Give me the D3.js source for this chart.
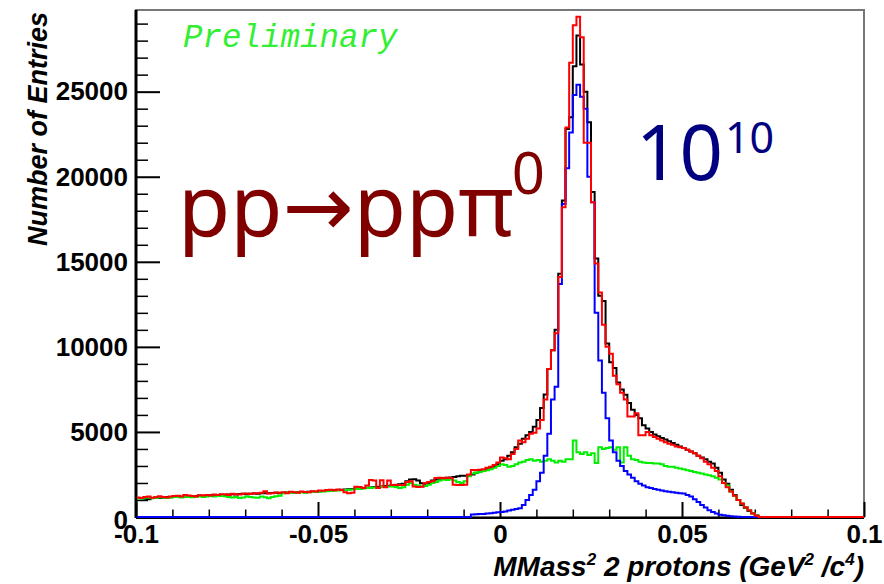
<!DOCTYPE html>
<html>
<head>
<meta charset="utf-8">
<script src="https://cdn.jsdelivr.net/npm/d3@7"></script>
<style>
  body { margin: 0; background: #fff; }
  svg { display: block; }
  .tick text { font-family: "Liberation Sans", Arial, sans-serif; font-weight: bold; font-size: 26px; fill: #000; }
</style>
</head>
<body>
<svg id="chart" width="884" height="584"></svg>
<script>
// histogram: 200 bins of 0.001 from -0.1 to 0.1
const binLow = -0.1, binWidth = 0.001

// black: all events
const totalHist = [
  1120,1100,1080,1050,1110,1140,1120,1150,1170,1160,
  1180,1200,1190,1210,1230,1220,1240,1260,1250,1270,
  1280,1270,1300,1310,1290,1320,1330,1320,1350,1360,
  1340,1370,1380,1370,1390,1400,1390,1410,1420,1400,
  1430,1440,1450,1440,1460,1470,1460,1480,1500,1490,
  1510,1530,1550,1560,1580,1590,1600,1610,1630,1650,
  1670,1680,1700,1720,1740,1760,1780,1800,1820,1840,
  1860,1880,1920,1960,2100,2200,2220,2150,1980,1960,
  2000,2150,2200,2250,2280,2300,2320,2350,2400,2420,
  2420,2450,2500,2600,2700,2750,2800,2900,3000,3100,
  3300,3400,3600,3800,4100,4300,4600,4800,5000,5300,
  5700,6400,7200,8700,9800,11000,14300,18600,22800,23500,
  26500,28300,26600,25000,23200,19100,15200,13000,12700,10200,
  9100,8760,7900,7500,7180,6700,6300,6000,5800,5400,
  5200,5000,4850,4750,4650,4550,4450,4350,4250,4150,
  4050,3950,3850,3750,3600,3500,3400,3250,3150,2900,
  2600,2200,1950,1600,1300,1000,700,550,350,220,
  90,0,0,0,0,0,0,0,0,0,
  0,0,0,0,0,0,0,0,0,0,
  0,0,0,0,0,0,0,0,0,0
]

// red: sum of simulated channels
const sumHist = [
  1150,1120,1180,1200,1130,1160,1220,1180,1150,1200,
  1230,1250,1200,1290,1260,1240,1200,1280,1260,1300,
  1260,1320,1290,1340,1330,1300,1360,1340,1320,1370,
  1380,1350,1400,1390,1420,1520,1380,1400,1440,1420,
  1450,1400,1480,1460,1430,1500,1470,1450,1520,1500,
  1560,1540,1580,1600,1570,1620,1590,1450,1400,1420,
  1780,1760,1700,1850,2180,2150,1700,2160,1750,2150,
  1880,1900,1880,1880,2060,2100,1800,1760,1780,2000,
  2050,2100,2290,2300,2280,2300,2290,1900,1880,1880,
  1900,2500,2760,2760,2780,2800,2900,2950,3050,3200,
  3500,3450,3400,3700,4000,4500,4400,4600,4900,4950,
  5200,5700,6900,8700,9800,10800,14100,18200,22900,26700,
  28900,29400,28200,22000,22000,18500,14900,13200,11300,10000,
  9600,8300,7800,7300,6900,5900,5900,6100,4800,4800,
  5000,4800,4700,4600,4500,4400,4300,4250,4150,4100,
  4050,3950,3850,3750,3600,3450,3250,3100,2900,2700,
  2400,2000,1750,1500,1250,1000,800,580,400,200,
  80,0,0,0,0,0,0,0,0,0,
  0,0,0,0,0,0,0,0,0,0,
  0,0,0,0,0,0,0,0,0,0
]

// green: multi-pion background
const bgHist = [
  1100,1080,1130,1150,1100,1120,1160,1140,1120,1150,
  1180,1170,1150,1200,1180,1160,1190,1220,1180,1200,
  1230,1210,1250,1240,1220,1180,1150,1170,1120,1150,
  1200,1180,1150,1130,1200,1160,1100,1180,1220,1250,
  1400,1420,1430,1410,1440,1450,1430,1460,1470,1480,
  1490,1500,1520,1530,1550,1560,1570,1590,1600,1620,
  1640,1650,1680,1700,1720,1740,1700,1780,1760,1790,
  1800,1760,1700,1750,1900,2000,1900,1850,1800,1820,
  1900,2000,2050,2150,2200,2180,2200,2150,2050,2000,
  2100,2400,2550,2600,2650,2700,2750,2800,2900,3000,
  3100,3050,2950,3000,3100,3200,3250,3350,3400,3300,
  3350,3250,3300,3400,3300,3200,3300,3250,3400,3400,
  4500,3800,3700,3800,3650,3750,3170,4100,4000,4050,
  4100,3950,4100,3200,4100,3600,3400,3350,3250,3200,
  3170,3170,3150,3150,3100,3000,2950,2950,2900,2850,
  2800,2750,2700,2650,2600,2550,2500,2450,2400,2300,
  2200,2000,1850,1500,1250,1000,800,580,400,200,
  80,0,0,0,0,0,0,0,0,0,
  0,0,0,0,0,0,0,0,0,0,
  0,0,0,0,0,0,0,0,0,0
]

// blue: pp -> pp pi0 signal
const signalHist = [
  0,0,0,0,0,0,0,0,0,0,
  0,0,0,0,0,0,0,0,0,0,
  0,0,0,0,0,0,0,0,0,0,
  0,0,0,0,0,0,0,0,0,0,
  0,0,0,0,0,0,0,0,0,0,
  0,0,0,0,0,0,0,0,0,0,
  0,0,0,0,0,0,0,0,0,0,
  0,0,0,0,0,0,0,0,0,0,
  0,0,0,0,0,0,0,0,0,0,
  0,0,150,160,170,180,200,220,250,280,
  300,330,380,420,470,520,700,1000,1300,1600,
  2100,2600,3600,4900,6900,7650,13700,18400,20500,22600,
  24800,25400,24700,24000,20000,18500,12000,9200,7300,5800,
  4500,3800,3300,3000,2700,2500,2300,2100,1950,1850,
  1750,1700,1650,1600,1560,1520,1480,1450,1420,1400,
  1380,1300,1200,1050,880,700,560,400,290,200,
  130,100,70,50,30,10,0,0,0,0,
  0,0,0,0,0,0,0,0,0,0,
  0,0,0,0,0,0,0,0,0,0,
  0,0,0,0,0,0,0,0,0,0
]

const xMajor = [-0.1, -0.05, 0, 0.05, 0.1]
const xLabels = ['-0.1', '-0.05', '0', '0.05', '0.1']
const yMajor = [0, 5000, 10000, 15000, 20000, 25000]
const yLabels = ['0', '5000', '10000', '15000', '20000', '25000']
const xMinor = [-0.09, -0.08, -0.07, -0.06, -0.04, -0.03, -0.02, -0.01,
                 0.01, 0.02, 0.03, 0.04, 0.06, 0.07, 0.08, 0.09]
const yMinor = [1000, 2000, 3000, 4000, 6000, 7000, 8000, 9000, 11000, 12000, 13000, 14000,
                16000, 17000, 18000, 19000, 21000, 22000, 23000, 24000, 26000, 27000, 28000, 29000]

const frame = { left: 136, right: 864, top: 10, bottom: 517 }

const svg = d3.select('#chart')

const x = d3.scaleLinear().domain([-0.1, 0.1]).range([frame.left, frame.right])
const y = d3.scaleLinear().domain([0, 29800]).range([frame.bottom, frame.top])

// frame
svg.append('rect')
  .attr('x', frame.left).attr('y', frame.top)
  .attr('width', frame.right - frame.left).attr('height', frame.bottom - frame.top)
  .attr('fill', 'none').attr('stroke', '#777').attr('stroke-width', 2)

// y axis (ticks point inward)
const yAxis = svg.append('g')
  .attr('transform', `translate(${frame.left},0)`)
  .call(d3.axisLeft(y).tickValues(yMajor).tickFormat((d, i) => yLabels[i])
    .tickSizeInner(-24).tickSizeOuter(0).tickPadding(8))
yAxis.select('.domain').remove()
yAxis.selectAll('.tick line').attr('stroke-width', 2)
yAxis.selectAll('.tick text').attr('dy', (d) => d === 0 ? '0.45em' : '0.32em')

const yMinorAxis = svg.append('g')
  .attr('transform', `translate(${frame.left},0)`)
  .call(d3.axisLeft(y).tickValues(yMinor).tickFormat('').tickSizeInner(-12).tickSizeOuter(0))
yMinorAxis.select('.domain').remove()
yMinorAxis.selectAll('.tick line').attr('stroke-width', 1.5)

// x axis
const xAxis = svg.append('g')
  .attr('transform', `translate(0,${frame.bottom})`)
  .call(d3.axisBottom(x).tickValues(xMajor).tickFormat((d, i) => xLabels[i])
    .tickSizeInner(-15).tickSizeOuter(0).tickPadding(8))
xAxis.select('.domain').remove()
xAxis.selectAll('.tick line').attr('stroke-width', 2)

const xMinorAxis = svg.append('g')
  .attr('transform', `translate(0,${frame.bottom})`)
  .call(d3.axisBottom(x).tickValues(xMinor).tickFormat('').tickSizeInner(-7.5).tickSizeOuter(0))
xMinorAxis.select('.domain').remove()
xMinorAxis.selectAll('.tick line').attr('stroke-width', 1.5)

// axis lines
svg.append('line')
  .attr('x1', frame.left).attr('x2', frame.left)
  .attr('y1', frame.top).attr('y2', frame.bottom + 1)
  .attr('stroke', '#000').attr('stroke-width', 3)
svg.append('line')
  .attr('x1', frame.left).attr('x2', frame.right)
  .attr('y1', frame.bottom + 1).attr('y2', frame.bottom + 1)
  .attr('stroke', '#000').attr('stroke-width', 2)

// histograms, drawn over the axis line like the original
svg.append('defs').append('clipPath').attr('id', 'clip')
  .append('rect')
  .attr('x', frame.left + 1).attr('y', frame.top - 2)
  .attr('width', frame.right - frame.left - 1).attr('height', frame.bottom - frame.top + 3)

const toPoints = (hist) => {
  const pts = hist.map((v, i) => [binLow + i * binWidth, v])
  pts.push([binLow + hist.length * binWidth, hist[hist.length - 1]])
  return pts
}

const line = d3.line()
  .x(d => x(d[0]))
  .y(d => y(d[1]))
  .curve(d3.curveStepAfter)

const plot = svg.append('g').attr('clip-path', 'url(#clip)')

const series = [
  { hist: totalHist, color: '#000000' },
  { hist: bgHist, color: '#00ee00' },
  { hist: signalHist, color: '#0000ff' },
  { hist: sumHist, color: '#ff0000' }
]

plot.selectAll('path.hist')
  .data(series)
  .enter().append('path')
  .attr('class', 'hist')
  .attr('d', d => line(toPoints(d.hist)))
  .attr('fill', 'none')
  .attr('stroke', d => d.color)
  .attr('stroke-width', 2)

// axis titles
svg.append('text')
  .attr('transform', 'translate(47,12) rotate(-90)')
  .attr('text-anchor', 'end')
  .style('font-family', '"Liberation Sans", Arial, sans-serif')
  .style('font-weight', 'bold').style('font-style', 'italic')
  .style('font-size', '27px')
  .text('Number of Entries')

const xTitle = svg.append('text')
  .attr('x', 864).attr('y', 576)
  .attr('text-anchor', 'end')
  .style('font-family', '"Liberation Sans", Arial, sans-serif')
  .style('font-weight', 'bold').style('font-style', 'italic')
  .style('font-size', '28px')
xTitle.append('tspan').text('MMass')
xTitle.append('tspan').attr('dy', -11).style('font-size', '17px').text('2')
xTitle.append('tspan').attr('dy', 11).text(' 2 protons (GeV')
xTitle.append('tspan').attr('dy', -11).style('font-size', '17px').text('2')
xTitle.append('tspan').attr('dy', 11).text(' /c')
xTitle.append('tspan').attr('dy', -11).style('font-size', '17px').text('4')
xTitle.append('tspan').attr('dy', 11).text(')')

// annotations
svg.append('text')
  .attr('x', 183).attr('y', 47)
  .style('font-family', '"Liberation Mono", "DejaVu Sans Mono", monospace')
  .style('font-style', 'italic')
  .style('font-size', '32.5px')
  .attr('fill', '#33ee33')
  .text('Preliminary')

const reaction = svg.append('text')
  .attr('x', 178).attr('y', 236)
  .style('font-family', '"Noto Sans", "DejaVu Sans", sans-serif')
  .style('font-size', '85px')
  .attr('fill', '#800000')
reaction.append('tspan').text('pp→ppπ')
reaction.append('tspan').attr('dx', -2).attr('dy', -42).style('font-size', '58px').text('0')

const stats = svg.append('text')
  .attr('x', 636).attr('y', 180)
  .style('font-family', '"Noto Sans", "DejaVu Sans", sans-serif')
  .style('font-size', '76px')
  .attr('fill', '#000080')
stats.append('tspan').text('10')
stats.append('tspan').attr('dx', 2).attr('dy', -27).style('font-size', '43px').text('10')
</script>
</body>
</html>
